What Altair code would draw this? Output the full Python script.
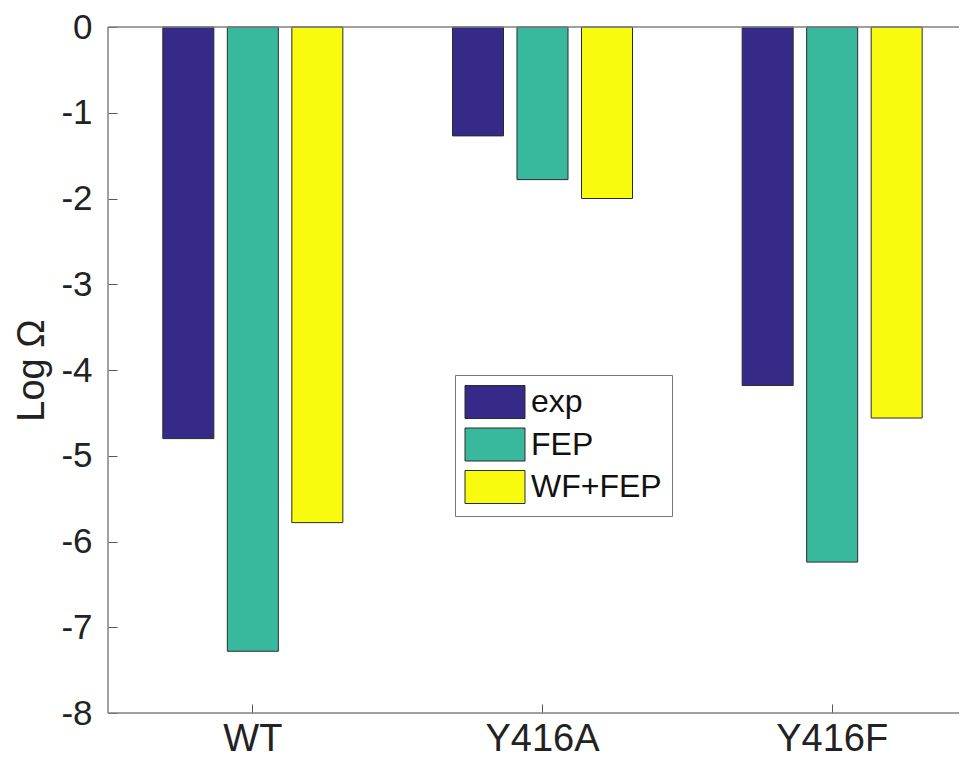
import altair as alt
import pandas as pd

categories = ["WT", "Y416A", "Y416F"]
series = ["exp", "FEP", "WF+FEP"]
exp_values = [-4.80, -1.27, -4.18]
fep_values = [-7.28, -1.78, -6.24]
wffep_values = [-5.78, -2.00, -4.56]
colors = ["#352a87", "#38b99e", "#f9fb0e"]
y_ticks = [-8, -7, -6, -5, -4, -3, -2, -1, 0]
y_limits = [-8, 0]

rows = []
for s, vals in zip(series, [exp_values, fep_values, wffep_values]):
    for c, v in zip(categories, vals):
        rows.append({"group": c, "series": s, "value": v})
df = pd.DataFrame(rows)

font = "Liberation Sans"
text_color = "#222222"
frame_color = "#808080"

x_scale = alt.Scale(domain=categories, paddingInner=0, paddingOuter=0, range=[0, 869])
y_scale = alt.Scale(domain=y_limits, nice=False)

bars = alt.Chart(df).mark_bar(stroke="#2b2b2b", strokeWidth=1, opacity=1).encode(
    x=alt.X(
        "group:N",
        sort=categories,
        scale=x_scale,
        axis=alt.Axis(
            title=None, labelAngle=0, offset=-9, tickSize=9, domain=False,
            labelPadding=7, labelFontSize=38, labelFont=font,
            labelColor=text_color, tickColor="#555555", tickWidth=1,
        ),
    ),
    xOffset=alt.XOffset(
        "series:N", sort=series,
        scale=alt.Scale(paddingInner=0.209, paddingOuter=0.85),
    ),
    y=alt.Y(
        "value:Q",
        scale=y_scale,
        axis=alt.Axis(
            values=y_ticks, title="Log Ω", grid=False, domain=False,
            labelExpr="'' + datum.value",
            offset=-9, tickSize=9, labelPadding=16, labelFontSize=35,
            labelFont=font, labelColor=text_color, tickColor="#555555",
            tickWidth=1, titleFont=font, titleFontSize=38,
            titleFontWeight="normal", titleColor=text_color, titlePadding=9,
        ),
    ),
    color=alt.Color(
        "series:N",
        sort=series,
        scale=alt.Scale(domain=series, range=colors),
        legend=alt.Legend(
            title=None, orient="none", legendX=347, legendY=348,
            direction="vertical",
            symbolType="M-1.818,-1H1.818V1H-1.818Z", symbolSize=1089,
            symbolOffset=13, labelOffset=19, rowPadding=4.5, padding=10,
            strokeColor="#777777", fillColor="white",
            labelFontSize=32, labelFont=font, labelColor="#111111",
            symbolStrokeColor="#2b2b2b", symbolStrokeWidth=1,
            symbolOpacity=1,
        ),
    ),
)

# frame lines of the axes box (top and bottom at the y limits, left edge)
hframe = alt.Chart(pd.DataFrame({"limit": y_limits})).mark_rule(
    color=frame_color, strokeWidth=1.5
).encode(y=alt.Y("limit:Q", scale=y_scale))

vframe = alt.Chart(pd.DataFrame({"edge": [0]})).mark_rule(
    color=frame_color, strokeWidth=1.5
).encode(x=alt.value(0))

chart = alt.layer(bars, hframe, vframe).properties(
    width=851,
    height=686,
    autosize=alt.AutoSizeParams(type="none"),
    padding={"left": 100, "top": 19, "right": 0, "bottom": 44},
).configure_view(
    stroke=None
)

chart.save("out.html", embed_options={"renderer": "svg", "actions": False})
